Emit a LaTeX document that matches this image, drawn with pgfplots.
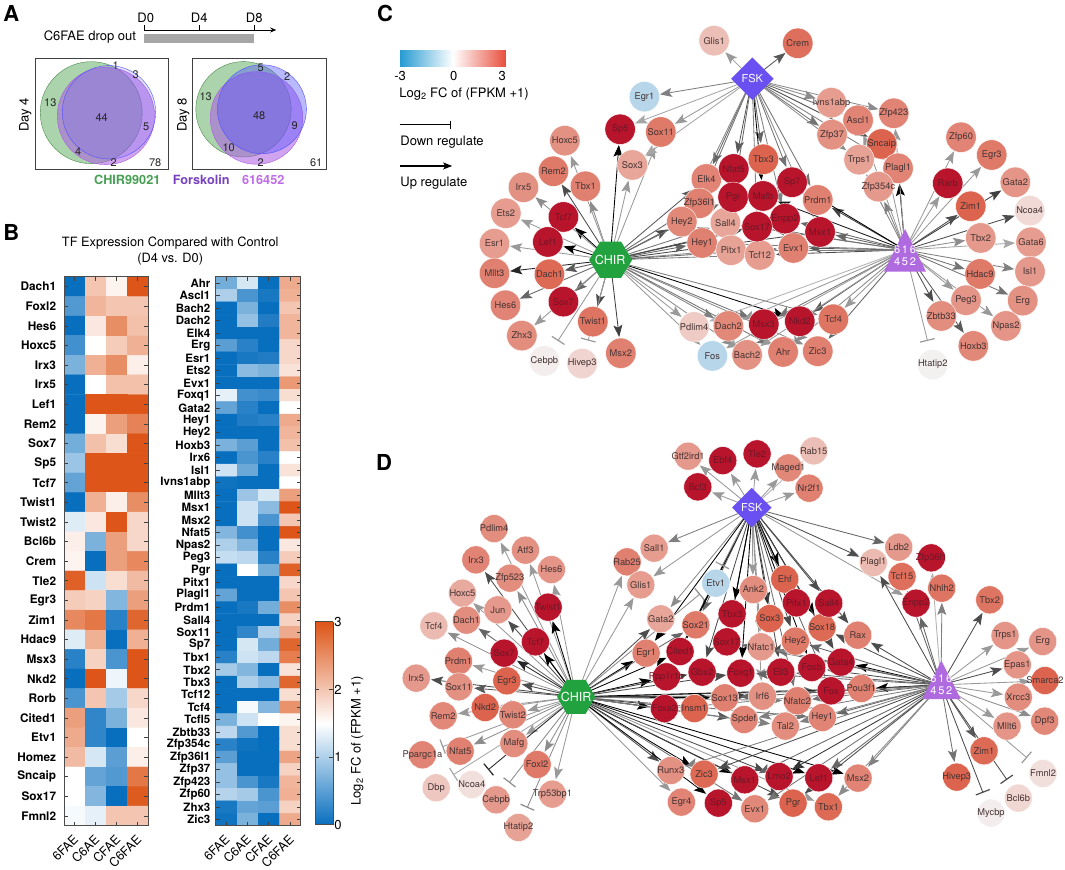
\documentclass[border=0pt]{standalone}
\usepackage{fontspec}
\setmainfont{TeX Gyre Heros}
\usepackage{pgfplots}
\usepackage{pgfplotstable}
\pgfplotsset{compat=1.18}
\usetikzlibrary{arrows.meta}

\newcommand{\fs}[1]{\fontsize{#1}{#1}\selectfont}
\definecolor{txtdark}{RGB}{70,52,52}
\definecolor{txtred}{RGB}{112,22,38}
\definecolor{chirgreen}{RGB}{34,162,62}
\definecolor{fskblue}{RGB}{106,80,240}
\definecolor{triviolet}{RGB}{176,106,224}
\definecolor{venngreen}{RGB}{90,170,90}
\definecolor{vennpurple}{RGB}{170,90,225}
\definecolor{vennblue}{RGB}{80,80,255}

\pgfplotsset{
  colormap={heat}{rgb255(0)=(8,110,190); rgb255(15)=(255,255,255); rgb255(30)=(221,85,24)},
  colormap={fcbar}{rgb255(0)=(38,155,210); rgb255(10)=(255,255,255); rgb255(20)=(232,78,60)},
  colormap={tf}{rgb255(0)=(184,214,234); rgb255(10)=(243,240,240); rgb255(20)=(240,212,207); rgb255(30)=(232,170,158); rgb255(40)=(224,128,112); rgb255(45)=(220,100,78); rgb255(50)=(184,20,44)},
  heatbox/.style={
    scale only axis, colormap name=heat, point meta min=0, point meta max=3,
    y dir=reverse, axis on top, enlargelimits=false,
    xmin=-0.5, xmax=3.5, xtick={0,1,2,3},
    xticklabels={6FAE,C6AE,CFAE,C6FAE},
    tick align=inside,
    axis line style={draw=black!70, line width=1pt},
    tick style={draw=black!75, line width=.8pt},
    major tick length=4pt,
    xticklabel style={rotate=45, anchor=north east, font=\fs{12.5}, inner sep=1pt, yshift=-3pt, xshift=-6pt},
  },
  edge/.style={line width=.85pt, -{Stealth[length=12pt,width=9pt,inset=2.5pt]}},
  tbar/.style={line width=.85pt, -{Bar[width=15pt,line width=1.2pt]}},
  tfcircles/.style={
    scatter, only marks, mark=*, point meta=explicit, colormap name=tf,
    scatter/use mapped color={fill=mapped color, draw=white, line width=.4pt},
  },
  tflabels/.style={
    only marks, mark=none, point meta=explicit symbolic,
    nodes near coords, nodes near coords align={anchor=center},
    every node near coord/.append style={anchor=center, inner sep=0pt, font=\fs{9.3}, text=#1},
  },
}

% hub x, hub y, shorten, list of target x/y/grey
\newcommand{\edgesfrom}[4]{%
  \foreach \tx/\ty/\g in {#4}{%
    \edef\tmp{\noexpand\addplot[edge, shorten >=#3pt, draw=black!\g] coordinates {(#1,#2)(\tx,\ty)};}\tmp
  }%
}
\newcommand{\barsfrom}[3]{%
  \foreach \tx/\ty/\g in {#3}{%
    \edef\tmp{\noexpand\addplot[tbar, draw=black!\g] coordinates {(#1,#2)(\tx,\ty)};}\tmp
  }%
}

% panel A counts
\pgfplotstableread{
x y name
115.5 66 1
135.5 74.5 3
50 103 13
101.5 118 44
146 127 5
78 152 4
113.5 163 2
155 163 78
260.5 68 5
287 76.5 2
205.5 97 13
259 116 48
294.5 126 9
228.5 148 10
260.5 163 2
316 163 61
}\Vennlab

% panel C nodes
\pgfplotstableread{
x y v name
644.3 96.7 -1 Egr1
660.7 132 3.1 Sox11
632.3 165 2.1 Sox3
564.7 140.7 2.6 Hoxc5
553.3 171.3 3.1 Rem2
585.3 186.3 3 Tbx1
523.3 187.3 2.6 Irx5
505.7 213.3 2.3 Ets2
494.3 243.7 2.3 Esr1
494.3 273.3 3 Mllt3
549.3 274.3 3.4 Dach1
505.3 305.3 2.9 Hes6
521.7 335.7 2.7 Zhx3
592.7 321.7 3.2 Twist1
620.7 353.3 3 Msx2
544.3 361 0.1 Cebpb
582 363.7 1 Hivep3
694 327 1.2 Pdlim4
712.3 356 -1 Fos
706.3 179 2.9 Elk4
699.3 203.3 3 Zfp36l1
681.7 221.7 2.8 Hey2
702 243 3 Hey1
725.3 222.7 2.1 Sall4
731 250.3 2.2 Pitx1
759.7 255 2.3 Tcf12
763.3 159.3 3.5 Tbx3
793.3 248 3 Evx1
817.7 200 3 Prdm1
714 40.7 1.5 Glis1
797.7 43.3 3.3 Crem
831.3 102.7 2.3 Ivns1abp
893.7 113.3 2.9 Zfp423
858 120.3 2.9 Ascl1
832 134.7 2.6 Zfp37
881.7 144 3.5 Sncaip
859 159.7 2.2 Trps1
898 168.3 2.9 Plagl1
878.3 186.7 2.4 Zfp354c
961 137.3 2.9 Zfp60
991.7 155 3.1 Egr3
1015.3 182.3 2.5 Gata2
970.7 206.3 3.5 Zim1
1029.7 210.7 0.8 Ncoa4
980.7 238 2.4 Tbx2
1031 242.3 2.3 Gata6
980 274 3.1 Hdac9
1030 271.7 2.4 Isl1
966 300.3 2.5 Peg3
1022.7 300.7 2.6 Erg
941.3 316 2.7 Zbtb33
1006 326 2.5 Npas2
973.3 346 2.8 Hoxb3
932.7 364.7 0 Htatip2
728.3 326 2.8 Dach2
833.3 319.3 3.2 Tcf4
747 355 2.6 Bach2
783 352 3 Ahr
817.7 351.3 3 Zic3
}\Cnodes
\pgfplotstableread{
x y v name
620 129.3 4 Sp5
563.3 217 4 Tcf7
547.7 242 4 Lef1
563.3 301.7 4 Sox7
733.7 169 4 Nfat5
733 197.3 4 Pgr
763 196 4 Mafb
792 182.3 4 Sp7
785 218.7 4 Enpp2
757 226.7 4 Sox17
820 232 4 Msx1
763.7 324.3 4 Msx3
799.7 321.3 4 Nkd2
947.7 183.3 4 Rarb
}\Cred

% panel D nodes
\pgfplotstableread{
x y v name
688 456.3 2.4 Gtf2ird1
654 548.3 2.3 Sall1
627 562 3 Rab25
640.7 585 2.3 Glis1
494 528.7 2.7 Pdlim4
525.3 550.3 2.6 Atf3
475.7 560 2.9 Irx3
551.3 569.7 2.5 Hes6
509.7 578.3 2.7 Zfp523
462.3 593.3 2 Hoxc5
497.7 610 2.4 Jun
466.3 620.3 2.7 Dach1
433.7 626 1.6 Tcf4
458.3 661.3 3 Prdm1
416 678.3 2.4 Irx5
506.7 681 3.5 Egr3
458.7 687 2.6 Sox11
485 707.7 3.5 Nkd2
443 716 2.8 Rem2
512.7 715 2.8 Twist2
460 751.3 3 Nfat5
513.7 743.7 2.7 Mafg
422.3 755 2.9 Ppargc1a
537 764.7 3.1 Foxl2
436 788 1.3 Dbp
471.7 784.7 0.6 Ncoa4
496 800 2.4 Cebpb
552.3 794.3 2.3 Trp53bp1
518.3 827.7 2.2 Htatip2
660.7 619 2.1 Gata2
646 653.3 3 Egr1
715.7 583.3 -1 Etv1
670.7 770.7 2.6 Runx3
704 774.3 3.4 Zic3
681.3 802.3 2.9 Egr4
753.3 589.7 2.7 Ank2
784.7 579.3 3.5 Ehf
769.7 618.7 3.5 Sox3
695.7 625 3.1 Sox21
822 627.7 3.4 Sox18
795.3 641.3 3.1 Hey2
761 647 2.4 Nfatc1
861.3 688.7 3 Pou3f1
724.7 698 3 Sox13
762.3 696.3 2.6 Irf6
797.3 701 3 Nfatc2
694.3 708.7 3.5 Insm1
744 719.7 2.9 Spdef
785.3 726.3 2.7 Tal2
822.3 717.7 2.9 Hey1
857.7 635.3 3 Rax
754.7 809 2.8 Evx1
793 803.3 3.5 Pgr
828.3 807 3.4 Tbx1
813.7 451 1.5 Rab15
788.3 468 2.8 Maged1
809 488.3 3 Nr2f1
898.7 547.3 2.4 Ldb2
873.3 562.7 1.6 Plagl1
902 576.7 3.3 Tcf15
941.7 588.3 3.2 Nhlh2
989.7 600 3.2 Tbx2
1005 635.7 2.5 Trps1
1042.7 641.7 2.5 Erg
1017.3 665 2.5 Epas1
1045 680.7 3.5 Smarca2
1018.3 697.3 2.7 Xrcc3
1007 726.3 2.5 Mllt6
1044.7 721.3 2.8 Dpf3
984 751 3.4 Zim1
956.7 777.3 3.5 Hivep3
858 778.3 2.9 Msx2
1043 773.7 0.6 Fmnl2
1018.3 798.3 0.9 Bcl6b
991 813.3 0.1 Mycbp
}\Dnodes
\pgfplotstableread{
x y v name
722.7 460.7 4 Ebf4
697.7 487 4 Bcl3
757 454 4 Tle2
548 607.3 4 Twist1
535.3 642 4 Tcf7
504 653.3 4 Sox7
796.3 603 4 Pitx1
828.7 603.3 4 Sall4
732 614 4 Tbx3
726.7 642 4 Sox17
680 651.7 4 Cited1
702 672.3 4 Gbx2
740.7 673.3 4 Foxq1
666.3 677 4 Ppp1r1b
780.7 672.3 4 Ell3
811.7 667.7 4 Fosb
841 662.3 4 Gata4
831 691 4 Fos
664.3 708.7 4 Foxa2
718.3 803.3 4 Sp5
744.7 780 4 Msx1
779 776.7 4 Lmo2
818.7 778 4 Lef1
931.3 558 4 Zfp36l1
916 603.3 4 Enpp2
}\Dred

\begin{document}
\begin{tikzpicture}
\begin{axis}[
  at={(0,0)}, anchor=south west,
  scale only axis, width=1065pt, height=869pt,
  xmin=0, xmax=1065, ymin=0, ymax=869, y dir=reverse,
  hide axis, clip=false,
  point meta min=-1, point meta max=4,
]
\addplot[fill=white, draw=none] coordinates {(0,0)(1065,0)(1065,869)(0,869)} --cycle;

% A: timeline
\addplot[fill=black!35, draw=none] coordinates {(144,34)(254,34)(254,43)(144,43)} --cycle;
\addplot[line width=.8pt, -{Stealth[length=6pt,width=5pt]}] coordinates {(144,30)(276,30)};
\addplot[line width=.8pt] coordinates {(144.5,30)(144.5,25)};
\addplot[line width=.8pt] coordinates {(199,30)(199,25)};
\addplot[line width=.8pt] coordinates {(254,30)(254,25)};
% A: Venn circles
\addplot[only marks, mark=*, mark size=51, mark options={fill=venngreen, fill opacity=.5, draw=venngreen!80!black}] coordinates {(91,112.7)};
\addplot[only marks, mark=*, mark size=48.7, mark options={fill=vennpurple, fill opacity=.55, draw=vennpurple}] coordinates {(105.7,116)};
\addplot[only marks, mark=*, mark size=46.7, mark options={fill=vennblue, fill opacity=.17, draw=vennblue}] coordinates {(108.7,112.3)};
\addplot[only marks, mark=*, mark size=47.7, mark options={fill=venngreen, fill opacity=.5, draw=venngreen!80!black}] coordinates {(243.3,109.3)};
\addplot[only marks, mark=*, mark size=46.3, mark options={fill=vennpurple, fill opacity=.55, draw=vennpurple}] coordinates {(256.3,118)};
\addplot[only marks, mark=*, mark size=44.5, mark options={fill=vennblue, fill opacity=.4, draw=vennblue}] coordinates {(261.7,109.3)};
\addplot[draw=black!75, line width=1pt] coordinates {(35.5,59)(168,59)(168,169.7)(35.5,169.7)} --cycle;
\addplot[draw=black!75, line width=1pt] coordinates {(192.7,59)(326,59)(326,169.7)(192.7,169.7)} --cycle;
\addplot[tflabels=black!85, every node near coord/.append style={font=\fs{11}}] table[meta=name] {\Vennlab};

% C: edges
\edgesfrom{610}{260}{16}{620/129/100, 632/165/40, 661/132/40, 585/186/45, 565/141/40, 553/171/70, 563/217/100, 523/187/45, 548/242/100, 506/213/40, 494/244/40, 494/273/85, 549/274/65, 505/305/60, 563/302/60, 522/336/40, 593/322/70, 621/353/75, 706/179/65, 699/203/60, 682/222/70, 702/243/60, 725/223/55, 731/250/45, 760/255/50, 793/248/60, 757/227/75, 820/232/70, 785/219/70, 733/197/55, 694/327/40, 712/356/40, 728/326/50, 747/355/45, 764/324/55, 800/321/100, 783/352/55, 818/351/45, 833/319/50}
\edgesfrom{752}{79}{16}{714/41/40, 798/43/65, 644/97/50, 661/132/40, 632/165/35, 620/129/35, 831/103/45, 832/135/55, 858/120/60, 894/113/45, 882/144/70, 859/160/45, 898/168/50, 734/169/65, 763/159/60, 733/197/60, 763/196/100, 792/182/55, 818/200/55, 706/179/60, 699/203/55, 757/227/50, 820/232/45, 785/219/50, 682/222/45}
\edgesfrom{905}{250}{16}{948/183/40, 961/137/40, 992/155/40, 1015/182/75, 971/206/70, 1030/211/70, 981/238/45, 1031/242/35, 980/274/55, 1030/272/50, 966/300/40, 1023/301/55, 941/316/70, 1006/326/40, 973/346/65, 898/168/100, 878/187/50, 859/160/50, 882/144/40, 858/120/40, 894/113/40, 818/200/75, 792/182/100, 763/196/90, 785/219/60, 820/232/60, 793/248/65, 760/255/70, 731/250/50, 725/223/50, 757/227/55, 702/243/50, 833/319/40, 800/321/65, 764/324/55, 818/351/60, 728/326/40, 712/356/40, 783/352/45, 747/355/40, 694/327/30}
\barsfrom{610}{260}{557.7/341/40, 588/340.7/40}
\barsfrom{905}{250}{927.5/341/40}
% legend lines
\addplot[line width=1pt, -{Bar[width=8pt,line width=1pt]}] coordinates {(399.5,124.7)(451,124.7)};
\addplot[line width=1.2pt, -{Stealth[length=9pt,width=7pt,inset=2pt]}] coordinates {(400,166)(452,166)};
% C: hubs
\addplot[fill=chirgreen, draw=none] coordinates {(589,260)(600,241.7)(621,241.7)(632,260)(621,278)(600,278)} --cycle;
\addplot[fill=fskblue, draw=none] coordinates {(731,78.7)(752.3,57.5)(773.5,78.7)(752.3,100)} --cycle;
\addplot[fill=triviolet, draw=none] coordinates {(905,229)(926,271.7)(884,271.7)} --cycle;
% C: nodes
\addplot[tfcircles, mark size=15.2] table[meta=v] {\Cnodes};
\addplot[tfcircles, mark size=15.2] table[meta=v] {\Cred};
\addplot[tflabels=txtdark] table[meta=name] {\Cnodes};
\addplot[tflabels=txtred] table[meta=name] {\Cred};

% D: edges
\edgesfrom{576}{697}{15}{494/529/40, 525/550/40, 476/560/70, 551/570/40, 510/578/45, 462/593/40, 498/610/70, 548/607/100, 466/620/60, 434/626/45, 535/642/100, 504/653/85, 458/661/40, 416/678/70, 507/681/70, 459/687/65, 485/708/40, 443/716/40, 513/715/40, 460/751/45, 537/765/45, 552/794/40, 514/744/40, 627/562/40, 641/585/40, 661/619/70, 646/653/100, 680/652/100, 666/677/100, 696/625/60, 664/709/100, 694/709/75, 702/672/75, 725/698/100, 744/720/65, 762/696/75, 741/673/70, 831/691/60, 861/689/100, 797/701/50, 785/726/50, 822/718/55, 671/771/70, 681/802/40, 704/774/100, 718/803/100, 745/780/100, 779/777/70, 819/778/100, 755/809/55, 793/803/70, 828/807/40, 858/778/100}
\edgesfrom{752}{508}{15}{688/456/40, 723/461/40, 698/487/40, 757/454/40, 788/468/40, 814/451/30, 809/488/40, 654/548/50, 641/585/40, 661/619/45, 696/625/60, 732/614/100, 753/590/40, 770/619/80, 785/579/100, 796/603/100, 829/603/70, 822/628/100, 795/641/70, 761/647/40, 727/642/100, 680/652/100, 741/673/100, 781/672/70, 812/668/100, 841/662/70, 858/635/70, 762/696/40, 797/701/55, 831/691/60, 899/547/60, 873/563/70, 916/603/40, 646/653/100, 702/672/70, 666/677/100}
\edgesfrom{941}{685}{15}{990/600/70, 1005/636/40, 1043/642/40, 1017/665/70, 1045/681/40, 1018/697/40, 1007/726/40, 1045/721/45, 957/777/55, 984/751/65, 873/563/70, 902/577/60, 916/603/60, 942/588/50, 931/558/30, 858/635/70, 841/662/100, 812/668/70, 831/691/60, 861/689/100, 781/672/60, 741/673/60, 822/718/60, 797/701/55, 785/726/50, 822/628/70, 795/641/60, 761/647/50, 727/642/60, 725/698/60, 664/709/50, 744/720/50, 858/778/50, 819/778/60, 828/807/45, 779/777/80, 745/780/60, 793/803/70, 704/774/70, 671/771/50, 755/809/55}
\barsfrom{576}{697}{442/747/40, 453/775/35, 488/770/85, 509/783/45, 527/808/45, 700/594/45}
\barsfrom{752}{508}{722/566/40}
\barsfrom{941}{685}{983/793/70, 1007/780/70, 1027/758/40}
% D: hubs
\addplot[fill=chirgreen, draw=none] coordinates {(557,697)(566.5,680)(585.5,680)(595,697)(585.5,714)(566.5,714)} --cycle;
\addplot[fill=fskblue, draw=none] coordinates {(732,507.7)(751.7,488)(771.5,507.7)(751.7,527.5)} --cycle;
\addplot[fill=triviolet, draw=none] coordinates {(941.3,660.7)(960.7,699.3)(922.3,699.3)} --cycle;
% D: nodes
\addplot[tfcircles, mark size=14] table[meta=v] {\Dnodes};
\addplot[tfcircles, mark size=14] table[meta=v] {\Dred};
\addplot[tflabels=txtdark] table[meta=name] {\Dnodes};
\addplot[tflabels=txtred] table[meta=name] {\Dred};

% texts
\node[font=\bfseries\fs{22}] at (11,13) {A};
\node[font=\bfseries\fs{22}] at (11,233) {B};
\node[font=\bfseries\fs{22}] at (385,13) {C};
\node[font=\bfseries\fs{22}] at (384,463) {D};
\node[font=\fs{13}] at (145.5,18) {D0};
\node[font=\fs{13}] at (199,18) {D4};
\node[font=\fs{13}] at (254,18) {D8};
\node[font=\fs{13}, anchor=east, inner sep=0pt] at (136,37) {C6FAE drop out};
\node[font=\fs{13}, rotate=90] at (25,115) {Day 4};
\node[font=\fs{13}, rotate=90] at (183,115) {Day 8};
\node[font=\bfseries\fs{12.7}, text={rgb,255:red,72;green,160;blue,85}] at (127,180) {CHIR99021};
\node[font=\bfseries\fs{12.7}, text={rgb,255:red,120;green,65;blue,190}] at (201,180) {Forskolin};
\node[font=\bfseries\fs{12.7}, text={rgb,255:red,190;green,110;blue,230}] at (263,180) {616452};
\node[font=\fs{12.8}] at (170,243) {TF Expression Compared with Control};
\node[font=\fs{12.8}] at (170,259) {(D4 vs. D0)};
\node[font=\fs{13}, rotate=90] at (357,741) {Log\textsubscript{2} FC of (FPKM +1)};
\node[font=\fs{13}] at (400,76) {-3};
\node[font=\fs{13}] at (453.5,76) {0};
\node[font=\fs{13}] at (502,76) {3};
\node[font=\fs{13}, anchor=west, inner sep=0pt] at (399,94) {Log\textsubscript{2} FC of (FPKM +1)};
\node[font=\fs{13}, anchor=west, inner sep=0pt] at (400,142) {Down regulate};
\node[font=\fs{13}, anchor=west, inner sep=0pt] at (400,183) {Up regulate};
\node[font=\fs{12.5}, text=white] at (610,260) {CHIR};
\node[font=\fs{11}, text=white] at (752.3,79) {FSK};
\node[font=\fs{11}, text=white, align=center] at (905,256) {6\,1\,6\\[1pt]4\,5\,2};
\node[font=\fs{12.5}, text=white] at (576,697) {CHIR};
\node[font=\fs{11}, text=white] at (751.7,508) {FSK};
\node[font=\fs{11}, text=white, align=center] at (941.3,685) {6\,1\,6\\[1pt]4\,5\,2};
\end{axis}

% B: left heat map
\begin{axis}[
  heatbox, at={(64pt,43pt)}, anchor=south west, width=84pt, height=549pt,
  ymin=-0.5, ymax=27.5, ytick={0,...,27},
  yticklabels={Dach1,Foxl2,Hes6,Hoxc5,Irx3,Irx5,Lef1,Rem2,Sox7,Sp5,Tcf7,Twist1,Twist2,Bcl6b,Crem,Tle2,Egr3,Zim1,Hdac9,Msx3,Nkd2,Rorb,Cited1,Etv1,Homez,Sncaip,Sox17,Fmnl2},
  yticklabel style={font=\bfseries\fs{11.8}, inner sep=0pt, xshift=-8pt},
]
\addplot[matrix plot*, mesh/cols=4, point meta=explicit] coordinates {
(0,0)[0] (1,0)[2] (2,0)[1.6] (3,0)[3]
(0,1)[.45] (1,1)[2.15] (2,1)[2] (3,1)[2]
(0,2)[0] (1,2)[1.7] (2,2)[2.5] (3,2)[2.05]
(0,3)[.35] (1,3)[1.5] (2,3)[1.95] (3,3)[2.2]
(0,4)[.7] (1,4)[2.2] (2,4)[2.5] (3,4)[1.65]
(0,5)[0] (1,5)[1.5] (2,5)[2.05] (3,5)[2.05]
(0,6)[0] (1,6)[3] (2,6)[3] (3,6)[3]
(0,7)[0] (1,7)[1.6] (2,7)[2.35] (3,7)[2.6]
(0,8)[.65] (1,8)[2.05] (2,8)[1.8] (3,8)[3]
(0,9)[.9] (1,9)[3] (2,9)[3] (3,9)[3]
(0,10)[.55] (1,10)[3] (2,10)[3] (3,10)[3]
(0,11)[0] (1,11)[2.2] (2,11)[1.65] (3,11)[2.5]
(0,12)[1.3] (1,12)[1.7] (2,12)[3] (3,12)[1.85]
(0,13)[1.65] (1,13)[.7] (2,13)[2.35] (3,13)[1.85]
(0,14)[1.6] (1,14)[0] (2,14)[2.35] (3,14)[2.55]
(0,15)[2.9] (1,15)[1.2] (2,15)[1.8] (3,15)[2.1]
(0,16)[1.95] (1,16)[1.9] (2,16)[.75] (3,16)[2.35]
(0,17)[2.55] (1,17)[2.7] (2,17)[.2] (3,17)[2.85]
(0,18)[1.3] (1,18)[2.2] (2,18)[0] (3,18)[2.2]
(0,19)[.2] (1,19)[1.9] (2,19)[.4] (3,19)[3]
(0,20)[0] (1,20)[3] (2,20)[1.4] (3,20)[3]
(0,21)[.4] (1,21)[2] (2,21)[.95] (3,21)[1.85]
(0,22)[2.35] (1,22)[.25] (2,22)[.7] (3,22)[1.7]
(0,23)[2.25] (1,23)[.25] (2,23)[0] (3,23)[1.5]
(0,24)[2.1] (1,24)[1.25] (2,24)[.5] (3,24)[1.65]
(0,25)[1.5] (1,25)[.55] (2,25)[.45] (3,25)[2.7]
(0,26)[1.5] (1,26)[.75] (2,26)[0] (3,26)[2.95]
(0,27)[1.45] (1,27)[1.35] (2,27)[2] (3,27)[2]
};
\end{axis}

% B: right heat map
\begin{axis}[
  heatbox, at={(215.3pt,43pt)}, anchor=south west, width=85.4pt, height=549pt,
  ymin=-0.5, ymax=43.5, ytick={0,...,43},
  yticklabels={Ahr,Ascl1,Bach2,Dach2,Elk4,Erg,Esr1,Ets2,Evx1,Foxq1,Gata2,Hey1,Hey2,Hoxb3,Irx6,Isl1,Ivns1abp,Mllt3,Msx1,Msx2,Nfat5,Npas2,Peg3,Pgr,Pitx1,Plagl1,Prdm1,Sall4,Sox11,Sp7,Tbx1,Tbx2,Tbx3,Tcf12,Tcf4,Tcfl5,Zbtb33,Zfp354c,Zfp36l1,Zfp37,Zfp423,Zfp60,Zhx3,Zic3},
  yticklabel style={font=\bfseries\fs{11.5}, inner sep=0pt, xshift=-5pt},
]
\addplot[matrix plot*, mesh/cols=4, point meta=explicit] coordinates {
(0,0)[.65] (1,0)[1.25] (2,0)[0] (3,0)[2.25]
(0,1)[1] (1,1)[.4] (2,1)[.1] (3,1)[2.2]
(0,2)[0] (1,2)[.7] (2,2)[0] (3,2)[2]
(0,3)[0] (1,3)[.85] (2,3)[.15] (3,3)[2.15]
(0,4)[0] (1,4)[0] (2,4)[0] (3,4)[2.15]
(0,5)[.5] (1,5)[.2] (2,5)[0] (3,5)[1.85]
(0,6)[0] (1,6)[.1] (2,6)[.15] (3,6)[1.85]
(0,7)[0] (1,7)[.8] (2,7)[.7] (3,7)[1.75]
(0,8)[0] (1,8)[0] (2,8)[0] (3,8)[2.4]
(0,9)[1.35] (1,9)[.35] (2,9)[.3] (3,9)[1.8]
(0,10)[.55] (1,10)[.2] (2,10)[0] (3,10)[1.5]
(0,11)[0] (1,11)[.15] (2,11)[.2] (3,11)[2.25]
(0,12)[0] (1,12)[0] (2,12)[0] (3,12)[2.15]
(0,13)[.7] (1,13)[.5] (2,13)[0] (3,13)[2.05]
(0,14)[0] (1,14)[.4] (2,14)[.2] (3,14)[1.5]
(0,15)[1.2] (1,15)[.6] (2,15)[0] (3,15)[1.75]
(0,16)[.05] (1,16)[0] (2,16)[0] (3,16)[1.5]
(0,17)[0] (1,17)[.9] (2,17)[1.25] (3,17)[2.35]
(0,18)[0] (1,18)[1.2] (2,18)[.8] (3,18)[3]
(0,19)[0] (1,19)[1.2] (2,19)[.4] (3,19)[2]
(0,20)[.75] (1,20)[.35] (2,20)[0] (3,20)[3]
(0,21)[1] (1,21)[.75] (2,21)[0] (3,21)[1.7]
(0,22)[1.15] (1,22)[1.1] (2,22)[.2] (3,22)[1.95]
(0,23)[0] (1,23)[1.5] (2,23)[.65] (3,23)[2.9]
(0,24)[0] (1,24)[0] (2,24)[0] (3,24)[1.85]
(0,25)[.55] (1,25)[0] (2,25)[0] (3,25)[2]
(0,26)[0] (1,26)[.1] (2,26)[.65] (3,26)[2.5]
(0,27)[0] (1,27)[0] (2,27)[0] (3,27)[1.9]
(0,28)[0] (1,28)[.25] (2,28)[1] (3,28)[2.25]
(0,29)[0] (1,29)[1.25] (2,29)[.65] (3,29)[2.85]
(0,30)[.2] (1,30)[1.2] (2,30)[1.1] (3,30)[2.65]
(0,31)[.95] (1,31)[.75] (2,31)[0] (3,31)[1.75]
(0,32)[0] (1,32)[1] (2,32)[.8] (3,32)[2.85]
(0,33)[0] (1,33)[0] (2,33)[0] (3,33)[1.8]
(0,34)[0] (1,34)[1.45] (2,34)[.75] (3,34)[2.45]
(0,35)[.7] (1,35)[1.2] (2,35)[1.5] (3,35)[1.6]
(0,36)[1.1] (1,36)[.45] (2,36)[0] (3,36)[1.8]
(0,37)[.2] (1,37)[.05] (2,37)[0] (3,37)[1.8]
(0,38)[.5] (1,38)[0] (2,38)[0] (3,38)[2.3]
(0,39)[.85] (1,39)[0] (2,39)[0] (3,39)[1.9]
(0,40)[.85] (1,40)[.4] (2,40)[.1] (3,40)[2.15]
(0,41)[1.05] (1,41)[.95] (2,41)[.4] (3,41)[2.2]
(0,42)[.1] (1,42)[.55] (2,42)[.5] (3,42)[1.9]
(0,43)[.05] (1,43)[.7] (2,43)[0] (3,43)[2.25]
};
\end{axis}

% B: colour bar
\begin{axis}[
  at={(315pt,44pt)}, anchor=south west, scale only axis, width=18pt, height=203pt,
  view={0}{90}, colormap name=heat, axis on top, enlargelimits=false,
  xmin=0, xmax=1, ymin=0, ymax=3, xtick=\empty,
  ytick={0,1,2,3}, yticklabels={0,1,2,3}, yticklabel pos=right,
  yticklabel style={font=\fs{13}, inner sep=1pt},
  tick align=inside, major tick length=4pt,
  axis line style={draw=black!70, line width=1pt}, tick style={draw=black!75, line width=.8pt},
  point meta min=0, point meta max=3,
]
\addplot3[surf, shader=interp, mesh/rows=2, point meta=y] coordinates {(0,0,0)(1,0,0)(0,3,0)(1,3,0)};
\end{axis}

% C: fold change bar
\begin{axis}[
  at={(400pt,802pt)}, anchor=south west, scale only axis, width=105.7pt, height=17.7pt,
  view={0}{90}, colormap name=fcbar, enlargelimits=false, hide axis,
  xmin=-3, xmax=3, ymin=0, ymax=1, point meta min=-3, point meta max=3,
]
\addplot3[surf, shader=interp, mesh/rows=2, point meta=x] coordinates {(-3,0,0)(3,0,0)(-3,1,0)(3,1,0)};
\end{axis}
\end{tikzpicture}
\end{document}
